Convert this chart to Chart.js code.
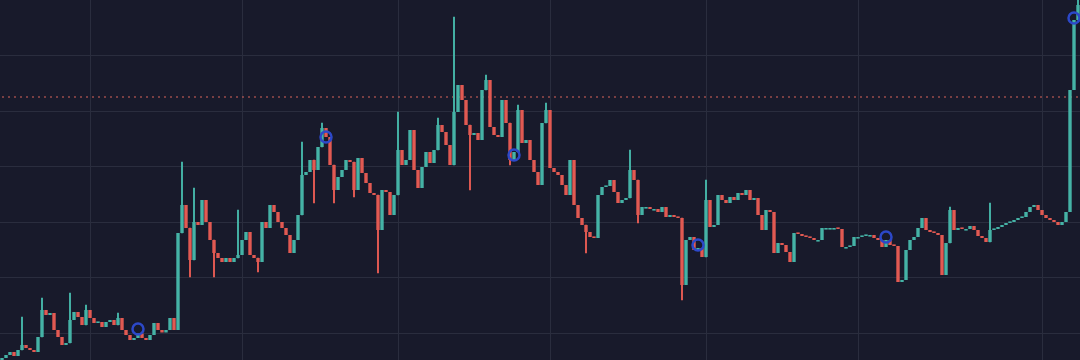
<!DOCTYPE html>
<html>
<head>
<meta charset="utf-8">
<script src="https://cdn.jsdelivr.net/npm/chart.js@4.4.0/dist/chart.umd.min.js"></script>
<style>
  html, body { margin: 0; padding: 0; background: #181a2b; }
  #wrap { width: 1080px; height: 360px; position: relative; }
</style>
</head>
<body>
<div id="wrap"><canvas id="c"></canvas></div>
<script>
// ---- data (price units, arbitrary scale) ----
const firstOpen = -27;
const closes = [
  -25,-22,-19,-23,-17,-12,-15,-17,-19,-4,
  23,18,20,3,-4,-12,-10,13,21,16,
  8,23,15,10,11,6,11,13,8,15,
  3,-2,-7,-5,0,-5,-7,-2,10,3,
  0,3,15,3,100,128,105,73,111,108,
  133,111,93,80,75,71,75,71,75,78,
  93,101,78,75,71,111,105,128,121,111,
  105,98,80,93,118,158,161,173,163,186,
  205,196,168,143,156,163,173,171,143,175,
  160,150,140,138,103,143,141,118,138,183,
  168,173,203,163,145,166,181,170,183,208,
  201,188,168,221,248,233,208,198,200,193,
  243,253,206,198,196,233,210,173,181,223,
  190,193,173,161,148,210,223,165,161,158,
  148,138,173,128,115,108,101,96,95,138,
  146,147,153,141,130,133,135,163,153,118,
  126,126,124,124,121,126,116,118,116,115,
  48,93,96,83,85,76,133,106,108,138,
  133,130,136,133,140,138,143,133,135,118,
  103,123,121,80,90,88,81,71,100,99,
  97,96,95,93,93,105,105,105,105,104,
  86,86,87,96,96,97,98,98,95,93,
  86,93,88,87,51,53,83,93,96,105,
  115,103,101,100,98,58,90,123,103,105,
  104,104,107,103,97,95,91,103,104,106,
  108,110,111,113,115,116,121,126,128,123,
  118,115,113,111,108,111,121,243,313,328
];
// long wicks: [candle index, low, high]
const wicks = [
  [5,null,16],[10,null,35],[17,null,40],[21,null,28],[29,null,20],
  [45,null,171],[47,56,null],[48,null,145],[53,56,null],[59,null,123],
  [64,61,null],[75,null,191],[78,130,null],[80,null,210],[83,130,null],
  [88,136,null],[94,60,null],[99,null,221],[109,null,215],[113,null,316],
  [117,143,null],[121,null,258],[127,168,null],[129,null,228],[136,null,230],
  [146,80,null],[157,null,183],[159,110,null],[170,33,null],[176,null,153],
  [237,null,126],[247,null,130],[269,null,333]
];
// signal markers: [candle index, price]
const markers = [[34,4],[81,196],[128,178],[174,88],[221,96],[268,315]];
const refLevel = 236;
const yGrid = [0, 55.5, 111, 166.5, 222, 277.5];
const xGrid = [22, 60, 99, 137, 176, 214, 260];

// ---- build ----
const labels = closes.map((_, i) => String(i));
const opens = closes.map((c, i) => i === 0 ? firstOpen : closes[i - 1]);
const UP = '#45b3a6', DOWN = '#e25a52';
const colors = closes.map((c, i) => c >= opens[i] ? UP : DOWN);
const bodies = closes.map((c, i) => [opens[i], c]);
const wickData = closes.map(() => null);
wicks.forEach(([i, lo, hi]) => {
  const bLo = Math.min(opens[i], closes[i]), bHi = Math.max(opens[i], closes[i]);
  wickData[i] = [lo === null ? bLo : lo, hi === null ? bHi : hi];
});

new Chart(document.getElementById('c'), {
  type: 'bar',
  data: {
    labels,
    datasets: [
      {
        type: 'line', label: 'level',
        data: [{x: labels[0], y: refLevel}, {x: labels[labels.length - 1], y: refLevel}],
        borderColor: '#d9655c', borderWidth: 1.2, borderDash: [2, 4],
        pointRadius: 0, order: 3, clip: false
      },
      {
        label: 'wick', data: wickData,
        backgroundColor: colors, barThickness: 1.3, grouped: false, order: 2
      },
      {
        label: 'body', data: bodies,
        backgroundColor: colors, barPercentage: 0.85, categoryPercentage: 1,
        grouped: false, minBarLength: 1.6, borderWidth: 0, order: 1
      },
      {
        type: 'line', label: 'signals',
        data: markers.map(([i, v]) => ({x: labels[i], y: v})),
        showLine: false, pointRadius: 5.5, pointBorderWidth: 2.5,
        pointBackgroundColor: 'rgba(0,0,0,0)', pointBorderColor: '#2c48c9',
        order: 0, clip: false
      }
    ]
  },
  options: {
    responsive: true, maintainAspectRatio: false, animation: false,
    layout: { padding: 0, autoPadding: false },
    plugins: { legend: { display: false }, tooltip: { enabled: false } },
    scales: {
      x: {
        type: 'category', offset: true,
        afterBuildTicks: ax => { ax.ticks = xGrid.map(v => ({ value: v })); },
        ticks: { display: false, autoSkip: false, padding: 0 },
        grid: { color: '#2a2d3e', lineWidth: 1, offset: false, drawTicks: false },
        border: { display: false }
      },
      y: {
        min: -27, max: 333,
        afterBuildTicks: ax => { ax.ticks = yGrid.map(v => ({ value: v })); },
        ticks: { display: false, padding: 0 },
        grid: { color: '#2a2d3e', lineWidth: 1, drawTicks: false },
        border: { display: false }
      }
    }
  }
});
</script>
</body>
</html>
